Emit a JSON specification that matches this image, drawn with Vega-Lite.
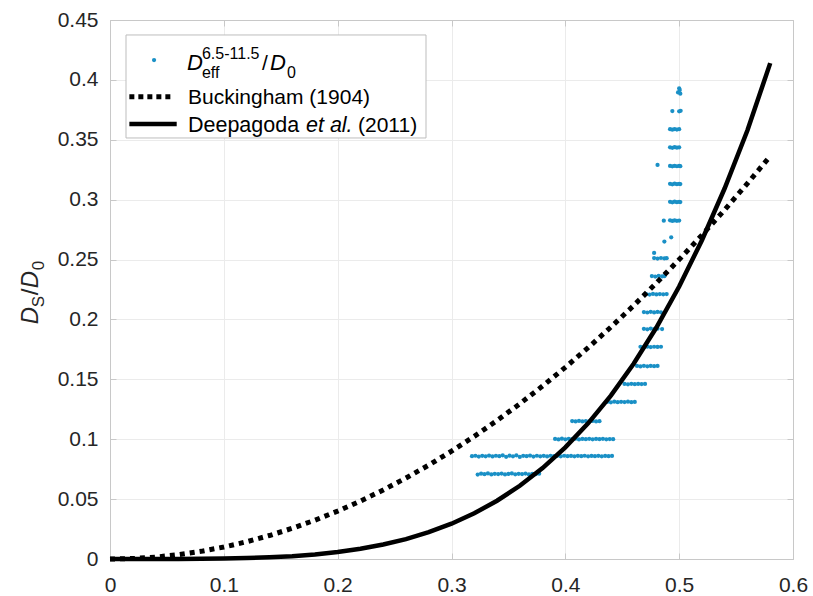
{
  "$schema": "https://vega.github.io/schema/vega-lite/v6.json",
  "width": 683,
  "height": 539,
  "autosize": {"type": "none"},
  "padding": {"left": 110, "top": 20, "right": 20, "bottom": 37},
  "background": "white",
  "config": {"view": {"stroke": "#c8c8c8", "strokeWidth": 1}, "font": "Liberation Sans"},
  "datasets": {
    "one": [{"k": 1}],
    "buck": [
      {"x": 0, "y": 0}, {"x": 0.02, "y": 0.0004}, {"x": 0.04, "y": 0.0016}, {"x": 0.06, "y": 0.0036},
      {"x": 0.08, "y": 0.0064}, {"x": 0.1, "y": 0.01}, {"x": 0.12, "y": 0.0144}, {"x": 0.14, "y": 0.0196},
      {"x": 0.16, "y": 0.0256}, {"x": 0.18, "y": 0.0324}, {"x": 0.2, "y": 0.04}, {"x": 0.22, "y": 0.0484},
      {"x": 0.24, "y": 0.0576}, {"x": 0.26, "y": 0.0676}, {"x": 0.28, "y": 0.0784}, {"x": 0.3, "y": 0.09},
      {"x": 0.32, "y": 0.1024}, {"x": 0.34, "y": 0.1156}, {"x": 0.36, "y": 0.1296}, {"x": 0.38, "y": 0.1444},
      {"x": 0.4, "y": 0.16}, {"x": 0.42, "y": 0.1764}, {"x": 0.44, "y": 0.1936}, {"x": 0.46, "y": 0.2116},
      {"x": 0.48, "y": 0.2304}, {"x": 0.5, "y": 0.25}, {"x": 0.52, "y": 0.2704}, {"x": 0.54, "y": 0.2916},
      {"x": 0.56, "y": 0.3136}, {"x": 0.58, "y": 0.3364}
    ],
    "deep": [
      {"x": 0, "y": 0}, {"x": 0.02, "y": 0.0000006}, {"x": 0.04, "y": 0.0000093}, {"x": 0.06, "y": 0.000047},
      {"x": 0.08, "y": 0.000149}, {"x": 0.1, "y": 0.000364}, {"x": 0.12, "y": 0.000755}, {"x": 0.14, "y": 0.0014},
      {"x": 0.16, "y": 0.00239}, {"x": 0.18, "y": 0.00382}, {"x": 0.2, "y": 0.00582}, {"x": 0.22, "y": 0.00853},
      {"x": 0.24, "y": 0.01208}, {"x": 0.26, "y": 0.01663}, {"x": 0.28, "y": 0.02237}, {"x": 0.3, "y": 0.02948},
      {"x": 0.32, "y": 0.03817}, {"x": 0.34, "y": 0.04864}, {"x": 0.36, "y": 0.06114}, {"x": 0.38, "y": 0.0759},
      {"x": 0.4, "y": 0.09318}, {"x": 0.42, "y": 0.11327}, {"x": 0.44, "y": 0.13643}, {"x": 0.46, "y": 0.16298},
      {"x": 0.48, "y": 0.19323}, {"x": 0.5, "y": 0.2275}, {"x": 0.52, "y": 0.26614}, {"x": 0.54, "y": 0.30951},
      {"x": 0.56, "y": 0.35798}, {"x": 0.58, "y": 0.414}
    ],
    "pts": [
      {"x": 0.323, "y": 0.0705}, {"x": 0.326, "y": 0.0712}, {"x": 0.329, "y": 0.0708}, {"x": 0.332, "y": 0.0714},
      {"x": 0.335, "y": 0.0706}, {"x": 0.338, "y": 0.0711}, {"x": 0.341, "y": 0.0709}, {"x": 0.344, "y": 0.0713},
      {"x": 0.347, "y": 0.0706}, {"x": 0.35, "y": 0.071}, {"x": 0.353, "y": 0.0714}, {"x": 0.356, "y": 0.0707},
      {"x": 0.359, "y": 0.0711}, {"x": 0.362, "y": 0.0709}, {"x": 0.365, "y": 0.0713}, {"x": 0.368, "y": 0.0706},
      {"x": 0.371, "y": 0.0711}, {"x": 0.374, "y": 0.0708}, {"x": 0.377, "y": 0.0712},
      {"x": 0.318, "y": 0.0858}, {"x": 0.321, "y": 0.0862}, {"x": 0.324, "y": 0.0855}, {"x": 0.327, "y": 0.0861},
      {"x": 0.33, "y": 0.0857}, {"x": 0.333, "y": 0.0864}, {"x": 0.336, "y": 0.0856}, {"x": 0.339, "y": 0.0862},
      {"x": 0.342, "y": 0.0858}, {"x": 0.345, "y": 0.0866}, {"x": 0.348, "y": 0.0853}, {"x": 0.351, "y": 0.0863},
      {"x": 0.354, "y": 0.0857}, {"x": 0.357, "y": 0.0866}, {"x": 0.36, "y": 0.0852}, {"x": 0.363, "y": 0.0861},
      {"x": 0.366, "y": 0.0858}, {"x": 0.369, "y": 0.0864}, {"x": 0.372, "y": 0.0855}, {"x": 0.375, "y": 0.0862},
      {"x": 0.378, "y": 0.0857}, {"x": 0.381, "y": 0.0861}, {"x": 0.384, "y": 0.0856}, {"x": 0.387, "y": 0.0862},
      {"x": 0.39, "y": 0.0858}, {"x": 0.393, "y": 0.0861}, {"x": 0.396, "y": 0.0857}, {"x": 0.399, "y": 0.0862},
      {"x": 0.402, "y": 0.0858}, {"x": 0.405, "y": 0.086}, {"x": 0.408, "y": 0.0857}, {"x": 0.411, "y": 0.0861},
      {"x": 0.414, "y": 0.0858}, {"x": 0.417, "y": 0.0862}, {"x": 0.42, "y": 0.0857}, {"x": 0.423, "y": 0.086},
      {"x": 0.426, "y": 0.0858}, {"x": 0.429, "y": 0.0861}, {"x": 0.432, "y": 0.0857}, {"x": 0.435, "y": 0.086},
      {"x": 0.438, "y": 0.0858}, {"x": 0.441, "y": 0.086},
      {"x": 0.391, "y": 0.1002}, {"x": 0.394, "y": 0.0998}, {"x": 0.397, "y": 0.1004}, {"x": 0.4, "y": 0.0999},
      {"x": 0.403, "y": 0.1003}, {"x": 0.406, "y": 0.1}, {"x": 0.409, "y": 0.1004}, {"x": 0.412, "y": 0.0998},
      {"x": 0.415, "y": 0.1002}, {"x": 0.418, "y": 0.1}, {"x": 0.421, "y": 0.1003}, {"x": 0.424, "y": 0.0999},
      {"x": 0.427, "y": 0.1002}, {"x": 0.43, "y": 0.1}, {"x": 0.433, "y": 0.1003}, {"x": 0.436, "y": 0.0999},
      {"x": 0.439, "y": 0.1001}, {"x": 0.442, "y": 0.1},
      {"x": 0.406, "y": 0.1152}, {"x": 0.409, "y": 0.1148}, {"x": 0.412, "y": 0.1153}, {"x": 0.415, "y": 0.1149},
      {"x": 0.418, "y": 0.1152}, {"x": 0.421, "y": 0.115}, {"x": 0.424, "y": 0.1153}, {"x": 0.427, "y": 0.1149},
      {"x": 0.43, "y": 0.1151},
      {"x": 0.437, "y": 0.1312}, {"x": 0.44, "y": 0.1308}, {"x": 0.443, "y": 0.1313}, {"x": 0.446, "y": 0.1309},
      {"x": 0.449, "y": 0.1312}, {"x": 0.452, "y": 0.131}, {"x": 0.455, "y": 0.1313}, {"x": 0.458, "y": 0.1309},
      {"x": 0.461, "y": 0.1311},
      {"x": 0.452, "y": 0.1462}, {"x": 0.455, "y": 0.1458}, {"x": 0.458, "y": 0.1463}, {"x": 0.461, "y": 0.1459},
      {"x": 0.464, "y": 0.1462}, {"x": 0.467, "y": 0.146}, {"x": 0.47, "y": 0.1462},
      {"x": 0.463, "y": 0.1612}, {"x": 0.466, "y": 0.1608}, {"x": 0.469, "y": 0.1613}, {"x": 0.472, "y": 0.1609},
      {"x": 0.475, "y": 0.1612}, {"x": 0.478, "y": 0.161}, {"x": 0.481, "y": 0.1612},
      {"x": 0.466, "y": 0.1772}, {"x": 0.469, "y": 0.1768}, {"x": 0.472, "y": 0.1773}, {"x": 0.475, "y": 0.1769},
      {"x": 0.478, "y": 0.1772}, {"x": 0.481, "y": 0.177}, {"x": 0.484, "y": 0.1772},
      {"x": 0.469, "y": 0.1922}, {"x": 0.472, "y": 0.1918}, {"x": 0.475, "y": 0.1924}, {"x": 0.478, "y": 0.1919},
      {"x": 0.481, "y": 0.1923}, {"x": 0.485, "y": 0.192},
      {"x": 0.469, "y": 0.2062}, {"x": 0.472, "y": 0.2058}, {"x": 0.475, "y": 0.2064}, {"x": 0.478, "y": 0.2059},
      {"x": 0.481, "y": 0.2063}, {"x": 0.484, "y": 0.206},
      {"x": 0.471, "y": 0.2212}, {"x": 0.474, "y": 0.2208}, {"x": 0.477, "y": 0.2213}, {"x": 0.48, "y": 0.2209},
      {"x": 0.483, "y": 0.2212}, {"x": 0.486, "y": 0.221}, {"x": 0.489, "y": 0.2212},
      {"x": 0.476, "y": 0.2362}, {"x": 0.479, "y": 0.2358}, {"x": 0.482, "y": 0.2363}, {"x": 0.485, "y": 0.2359},
      {"x": 0.487, "y": 0.2361},
      {"x": 0.478, "y": 0.2512}, {"x": 0.481, "y": 0.2508}, {"x": 0.484, "y": 0.2513}, {"x": 0.487, "y": 0.2509},
      {"x": 0.489, "y": 0.2511}, {"x": 0.478, "y": 0.2555},
      {"x": 0.487, "y": 0.265}, {"x": 0.493, "y": 0.2686},
      {"x": 0.4865, "y": 0.2825}, {"x": 0.492, "y": 0.2828}, {"x": 0.494, "y": 0.2822}, {"x": 0.496, "y": 0.2827},
      {"x": 0.498, "y": 0.2823}, {"x": 0.5, "y": 0.2826},
      {"x": 0.492, "y": 0.2982}, {"x": 0.494, "y": 0.2978}, {"x": 0.496, "y": 0.2983}, {"x": 0.498, "y": 0.2979},
      {"x": 0.5, "y": 0.2982}, {"x": 0.501, "y": 0.298},
      {"x": 0.492, "y": 0.3132}, {"x": 0.494, "y": 0.3128}, {"x": 0.496, "y": 0.3133}, {"x": 0.498, "y": 0.3129},
      {"x": 0.5, "y": 0.3132}, {"x": 0.501, "y": 0.313},
      {"x": 0.481, "y": 0.329}, {"x": 0.492, "y": 0.3282}, {"x": 0.494, "y": 0.3278}, {"x": 0.496, "y": 0.3283},
      {"x": 0.498, "y": 0.3279}, {"x": 0.5, "y": 0.3282}, {"x": 0.501, "y": 0.328},
      {"x": 0.492, "y": 0.3437}, {"x": 0.494, "y": 0.3433}, {"x": 0.496, "y": 0.3438}, {"x": 0.498, "y": 0.3434},
      {"x": 0.5, "y": 0.3437},
      {"x": 0.492, "y": 0.3588}, {"x": 0.494, "y": 0.3584}, {"x": 0.496, "y": 0.3589}, {"x": 0.498, "y": 0.3585},
      {"x": 0.5, "y": 0.3588},
      {"x": 0.494, "y": 0.374}, {"x": 0.5013, "y": 0.3742}, {"x": 0.5, "y": 0.3738},
      {"x": 0.499, "y": 0.3895}, {"x": 0.5005, "y": 0.3915}, {"x": 0.501, "y": 0.3885}, {"x": 0.5, "y": 0.393}
    ]
  },
  "layer": [
    {
      "data": {"name": "pts"},
      "mark": {"type": "circle", "size": 18, "color": "#1a90c6", "opacity": 1},
      "encoding": {
        "x": {"field": "x", "type": "quantitative",
          "scale": {"domain": [0, 0.6], "nice": false, "zero": false},
          "axis": {"orient": "bottom", "values": [0, 0.1, 0.2, 0.3, 0.4, 0.5, 0.6], "format": "~g", "title": null,
            "grid": true, "gridColor": "#ebebeb", "domainColor": "#c8c8c8", "tickColor": "#c8c8c8", "tickSize": -6,
            "labelFontSize": 21, "labelColor": "#262626", "labelPadding": 21, "labelFont": "Liberation Sans", "labelFlush": false}},
        "y": {"field": "y", "type": "quantitative",
          "scale": {"domain": [0, 0.45], "nice": false, "zero": false},
          "axis": {"orient": "left", "values": [0, 0.05, 0.1, 0.15, 0.2, 0.25, 0.3, 0.35, 0.4, 0.45], "format": "~g", "title": null,
            "grid": true, "gridColor": "#ebebeb", "domainColor": "#c8c8c8", "tickColor": "#c8c8c8", "tickSize": -6,
            "labelFontSize": 21, "labelColor": "#262626", "labelPadding": 18, "labelFont": "Liberation Sans", "labelFlush": false}}
      }
    },
    {
      "data": {"name": "buck"},
      "mark": {"type": "line", "color": "black", "strokeWidth": 5, "strokeDash": [5, 5], "strokeCap": "butt"},
      "encoding": {
        "x": {"field": "x", "type": "quantitative",
          "axis": {"orient": "top", "values": [0, 0.1, 0.2, 0.3, 0.4, 0.5, 0.6], "labels": false, "title": null, "grid": false,
            "domainColor": "#c8c8c8", "tickColor": "#c8c8c8", "tickSize": -6}},
        "y": {"field": "y", "type": "quantitative",
          "axis": {"orient": "right", "values": [0, 0.05, 0.1, 0.15, 0.2, 0.25, 0.3, 0.35, 0.4, 0.45], "labels": false, "title": null, "grid": false,
            "domainColor": "#c8c8c8", "tickColor": "#c8c8c8", "tickSize": -6}}
      }
    },
    {
      "data": {"name": "deep"},
      "mark": {"type": "line", "color": "black", "strokeWidth": 4.5, "strokeCap": "butt"},
      "encoding": {
        "x": {"field": "x", "type": "quantitative", "axis": null},
        "y": {"field": "y", "type": "quantitative", "axis": null}
      }
    },
    {
      "data": {"name": "one"},
      "mark": {"type": "rect", "fill": "white", "stroke": "#bdbdbd", "strokeWidth": 1},
      "encoding": {"x": {"datum": 0.01406, "axis": null}, "x2": {"datum": 0.2776}, "y": {"datum": 0.4375, "axis": null}, "y2": {"datum": 0.3515}}
    },
    {
      "data": {"name": "one"},
      "mark": {"type": "circle", "size": 18, "color": "#1a90c6", "opacity": 1},
      "encoding": {"x": {"datum": 0.0387, "axis": null}, "y": {"datum": 0.4166, "axis": null}}
    },
    {
      "data": {"name": "one"},
      "mark": {"type": "rule", "color": "black", "strokeWidth": 5, "strokeDash": [5, 4], "strokeCap": "butt"},
      "encoding": {"x": {"datum": 0.017, "axis": null}, "x2": {"datum": 0.0545}, "y": {"datum": 0.386, "axis": null}}
    },
    {
      "data": {"name": "one"},
      "mark": {"type": "rule", "color": "black", "strokeWidth": 4.5, "strokeCap": "butt"},
      "encoding": {"x": {"datum": 0.017, "axis": null}, "x2": {"datum": 0.0586}, "y": {"datum": 0.3632, "axis": null}}
    },
    {
      "data": {"name": "one"},
      "mark": {"type": "text", "text": "D", "font": "Liberation Sans", "fontSize": 22, "fontStyle": "italic", "align": "left", "baseline": "alphabetic", "color": "black"},
      "encoding": {"x": {"datum": 0.0676, "axis": null}, "y": {"datum": 0.4083, "axis": null}}
    },
    {
      "data": {"name": "one"},
      "mark": {"type": "text", "text": "6.5-11.5", "font": "Liberation Sans", "fontSize": 16, "align": "left", "baseline": "alphabetic", "dx": 15, "dy": -11, "color": "black"},
      "encoding": {"x": {"datum": 0.0676, "axis": null}, "y": {"datum": 0.4083, "axis": null}}
    },
    {
      "data": {"name": "one"},
      "mark": {"type": "text", "text": "eff", "font": "Liberation Sans", "fontSize": 16, "align": "left", "baseline": "alphabetic", "dx": 15, "dy": 8, "color": "black"},
      "encoding": {"x": {"datum": 0.0676, "axis": null}, "y": {"datum": 0.4083, "axis": null}}
    },
    {
      "data": {"name": "one"},
      "mark": {"type": "text", "text": "/", "font": "Liberation Sans", "fontSize": 21, "align": "left", "baseline": "alphabetic", "dx": 75, "color": "black"},
      "encoding": {"x": {"datum": 0.0676, "axis": null}, "y": {"datum": 0.4083, "axis": null}}
    },
    {
      "data": {"name": "one"},
      "mark": {"type": "text", "text": "D", "font": "Liberation Sans", "fontSize": 22, "fontStyle": "italic", "align": "left", "baseline": "alphabetic", "dx": 83, "color": "black"},
      "encoding": {"x": {"datum": 0.0676, "axis": null}, "y": {"datum": 0.4083, "axis": null}}
    },
    {
      "data": {"name": "one"},
      "mark": {"type": "text", "text": "0", "font": "Liberation Sans", "fontSize": 16, "align": "left", "baseline": "alphabetic", "dx": 100, "dy": 8, "color": "black"},
      "encoding": {"x": {"datum": 0.0676, "axis": null}, "y": {"datum": 0.4083, "axis": null}}
    },
    {
      "data": {"name": "one"},
      "mark": {"type": "text", "text": "Buckingham (1904)", "font": "Liberation Sans", "fontSize": 21, "align": "left", "baseline": "alphabetic", "color": "black"},
      "encoding": {"x": {"datum": 0.0685, "axis": null}, "y": {"datum": 0.3796, "axis": null}}
    },
    {
      "data": {"name": "one"},
      "mark": {"type": "text", "text": "Deepagoda", "font": "Liberation Sans", "fontSize": 21.5, "align": "left", "baseline": "alphabetic", "color": "black"},
      "encoding": {"x": {"datum": 0.0685, "axis": null}, "y": {"datum": 0.3569, "axis": null}}
    },
    {
      "data": {"name": "one"},
      "mark": {"type": "text", "text": "et al.", "font": "Liberation Sans", "fontSize": 21.5, "fontStyle": "italic", "align": "left", "baseline": "alphabetic", "dx": 118, "color": "black"},
      "encoding": {"x": {"datum": 0.0685, "axis": null}, "y": {"datum": 0.3569, "axis": null}}
    },
    {
      "data": {"name": "one"},
      "mark": {"type": "text", "text": "(2011)", "font": "Liberation Sans", "fontSize": 21, "align": "left", "baseline": "alphabetic", "dx": 170, "color": "black"},
      "encoding": {"x": {"datum": 0.0685, "axis": null}, "y": {"datum": 0.3569, "axis": null}}
    },
    {
      "data": {"name": "one"},
      "mark": {"type": "text", "text": "D", "font": "Liberation Sans", "fontSize": 24, "fontStyle": "italic", "angle": 270, "align": "left", "baseline": "alphabetic", "color": "#262626", "clip": false},
      "encoding": {"x": {"datum": -0.0632, "axis": null}, "y": {"datum": 0.196, "axis": null}}
    },
    {
      "data": {"name": "one"},
      "mark": {"type": "text", "text": "S", "font": "Liberation Sans", "fontSize": 17, "angle": 270, "align": "left", "baseline": "alphabetic", "dx": 17, "dy": 6, "color": "#262626"},
      "encoding": {"x": {"datum": -0.0632, "axis": null}, "y": {"datum": 0.196, "axis": null}}
    },
    {
      "data": {"name": "one"},
      "mark": {"type": "text", "text": "/", "font": "Liberation Sans", "fontSize": 24, "angle": 270, "align": "left", "baseline": "alphabetic", "dx": 29, "color": "#262626"},
      "encoding": {"x": {"datum": -0.0632, "axis": null}, "y": {"datum": 0.196, "axis": null}}
    },
    {
      "data": {"name": "one"},
      "mark": {"type": "text", "text": "D", "font": "Liberation Sans", "fontSize": 24, "fontStyle": "italic", "angle": 270, "align": "left", "baseline": "alphabetic", "dx": 36, "color": "#262626"},
      "encoding": {"x": {"datum": -0.0632, "axis": null}, "y": {"datum": 0.196, "axis": null}}
    },
    {
      "data": {"name": "one"},
      "mark": {"type": "text", "text": "0", "font": "Liberation Sans", "fontSize": 17, "angle": 270, "align": "left", "baseline": "alphabetic", "dx": 54, "dy": 6, "color": "#262626"},
      "encoding": {"x": {"datum": -0.0632, "axis": null}, "y": {"datum": 0.196, "axis": null}}
    }
  ],
  "resolve": {"axis": {"x": "independent", "y": "independent"}}
}
